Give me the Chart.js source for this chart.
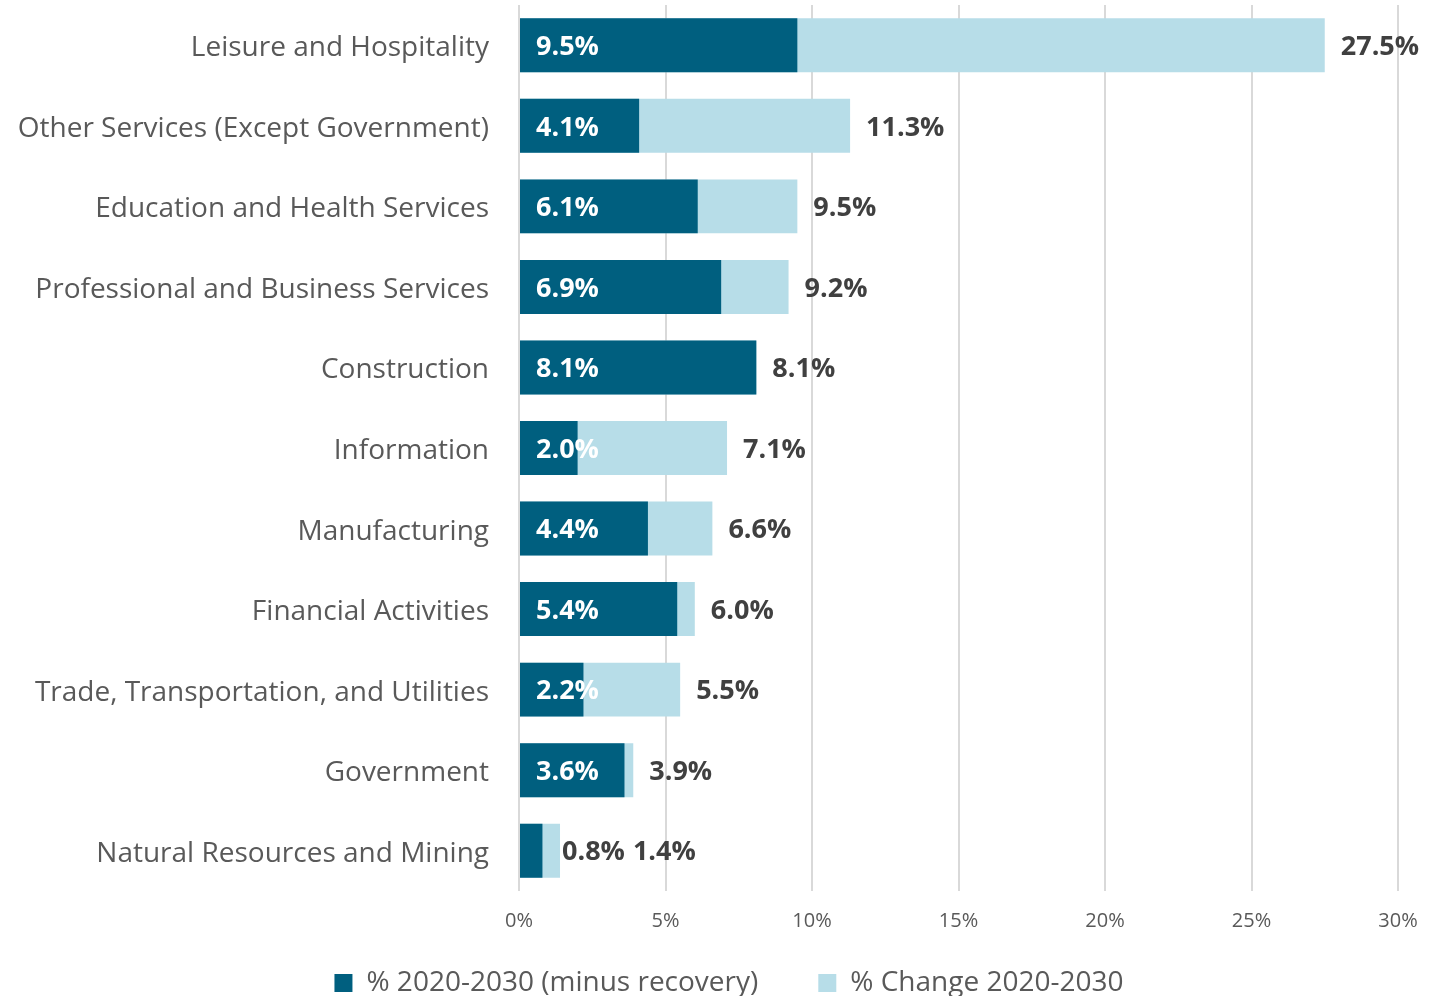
<!DOCTYPE html>
<html>
<head>
<meta charset="utf-8">
<script src="https://cdn.jsdelivr.net/npm/chart.js@4.4.1/dist/chart.umd.min.js"></script>
<style>
  html, body { margin: 0; padding: 0; background: #fff; }
  #wrap { width: 1447px; height: 996px; }
</style>
</head>
<body>
<div id="wrap"><canvas id="c" width="1447" height="996"></canvas></div>
<script>
// industry rows, top to bottom
var industries = [
  "Leisure and Hospitality",
  "Other Services (Except Government)",
  "Education and Health Services",
  "Professional and Business Services",
  "Construction",
  "Information",
  "Manufacturing",
  "Financial Activities",
  "Trade, Transportation, and Utilities",
  "Government",
  "Natural Resources and Mining"
];

var minusRecovery = [9.5, 4.1, 6.1, 6.9, 8.1, 2.0, 4.4, 5.4, 2.2, 3.6, 0.8];
var totalChange = [27.5, 11.3, 9.5, 9.2, 8.1, 7.1, 6.6, 6.0, 5.5, 3.9, 1.4];

var seriesNames = ["% 2020-2030 (minus recovery)", "% Change 2020-2030"];
var xTicks = [0, 5, 10, 15, 20, 25, 30];

var FONT = "'Open Sans', 'Noto Sans', sans-serif";
var DARK = "#005f7f";
var LIGHT = "#b7dde8";

// draws the % labels: dark value inside the bar, total past the end
var barLabels = {
  id: "barLabels",
  afterDatasetsDraw: function(chart) {
    var ctx = chart.ctx;
    var darkBars = chart.getDatasetMeta(0).data;
    var lightBars = chart.getDatasetMeta(1).data;
    ctx.save();
    ctx.font = "bold 27px " + FONT;
    ctx.textBaseline = "middle";
    ctx.textAlign = "left";
    for (var i = 0; i < darkBars.length; i++) {
      var d = darkBars[i], l = lightBars[i];
      var txt = minusRecovery[i].toFixed(1) + "%";
      var tot = totalChange[i].toFixed(1) + "%";
      var nextX = l.x + 16;
      if (d.x - d.base > 40) {
        ctx.fillStyle = "#ffffff";
        ctx.fillText(txt, d.base + 16, d.y + 2);
      } else {
        ctx.fillStyle = "#404040";
        ctx.fillText(txt, l.x + 2, d.y + 2);
        nextX = l.x + 2 + ctx.measureText(txt).width + 8;
      }
      ctx.fillStyle = "#404040";
      ctx.fillText(tot, nextX, l.y + 2);
    }
    ctx.restore();
  }
};

// legend keeps wide gaps between items but should not eat vertical room
var legendSqueeze = {
  id: "legendSqueeze",
  beforeLayout: function(chart) {
    var lg = chart.legend;
    if (lg && !lg._squeezed) {
      var fit = lg.fit;
      lg.fit = function() {
        fit.call(this);
        this.height = 63;
      };
      lg._squeezed = true;
    }
  },
  afterLayout: function(chart) {
    var lg = chart.legend;
    lg.top -= 24;
    lg.bottom = chart.height;
    lg.left += 30; lg.right += 30;
  }
};

var chart = new Chart(document.getElementById("c").getContext("2d"), {
  type: "bar",
  data: {
    labels: industries,
    datasets: [
      {
        label: seriesNames[0],
        data: minusRecovery,
        backgroundColor: DARK,
        order: 0
      },
      {
        label: seriesNames[1],
        data: totalChange,
        backgroundColor: LIGHT,
        order: 1
      }
    ]
  },
  options: {
    indexAxis: "y",
    responsive: false,
    animation: false,
    devicePixelRatio: 1,
    layout: { padding: { top: 5, right: 49, bottom: 0, left: 0 } },
    datasets: {
      bar: { grouped: false, barPercentage: 0.67, categoryPercentage: 1 }
    },
    scales: {
      x: {
        min: 0,
        max: 30,
        afterBuildTicks: function(scale) {
          scale.ticks = xTicks.map(function(v) { return { value: v }; });
        },
        afterFit: function(scale) { scale.height = 42; },
        ticks: {
          callback: function(v) { return v + "%"; },
          color: "#595959",
          font: { family: FONT, size: 20 },
          padding: 18
        },
        grid: { color: "#d9d9d9", lineWidth: 2, drawTicks: false },
        border: { display: false }
      },
      y: {
        afterFit: function(scale) {
          scale.width = 519;
          scale.paddingTop = 0;
          scale.paddingBottom = 0;
        },
        ticks: {
          color: "#595959",
          font: { family: FONT, size: 28 },
          padding: 0,
          labelOffset: 3
        },
        grid: { display: false, drawTicks: true, tickLength: 30 },
        border: { display: false }
      }
    },
    plugins: {
      legend: {
        position: "bottom",
        labels: {
          boxWidth: 18,
          boxHeight: 18,
          color: "#595959",
          font: { family: FONT, size: 28 },
          padding: 60
        }
      },
      tooltip: { enabled: false }
    }
  },
  plugins: [barLabels, legendSqueeze]
});
</script>
</body>
</html>
